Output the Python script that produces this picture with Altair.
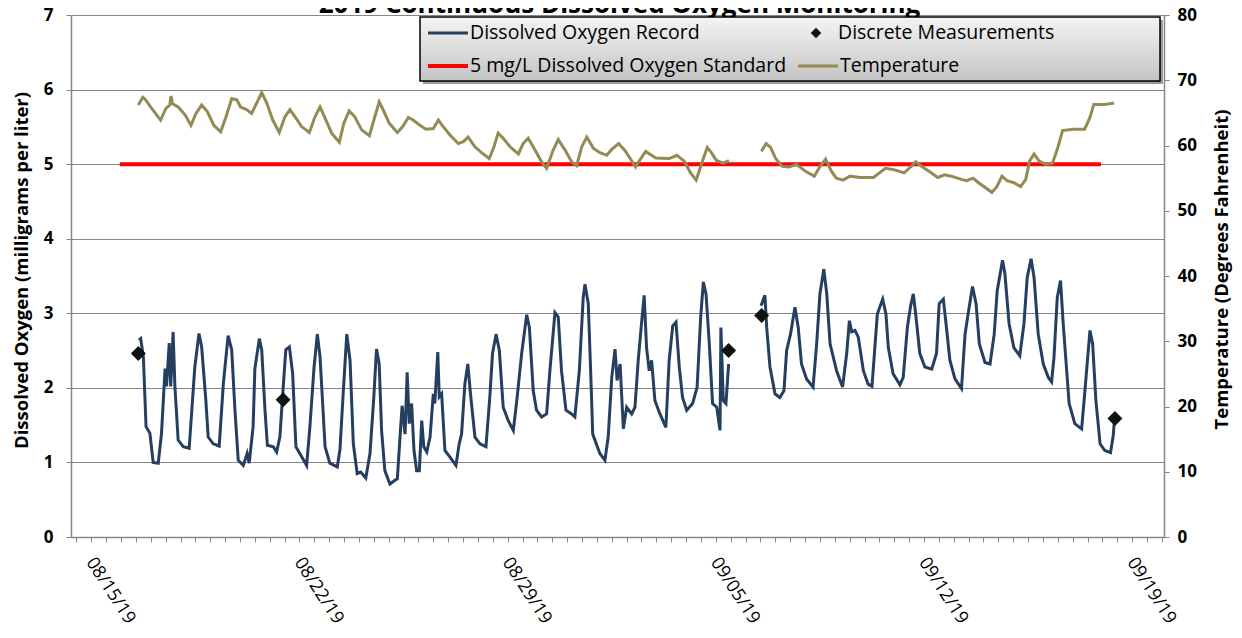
import altair as alt
import pandas as pd

FONT = "Open Sans"
TITLE = "2019 Continuous Dissolved Oxygen Monitoring"
Y_LEFT_TITLE = "Dissolved Oxygen (milligrams per liter)"
Y_RIGHT_TITLE = "Temperature (Degrees Fahrenheit)"
LEGEND_LABELS = ["Dissolved Oxygen Record", "Discrete Measurements",
                 "5 mg/L Dissolved Oxygen Standard", "Temperature"]
DATE_LABELS = ["08/15/19", "08/22/19", "08/29/19", "09/05/19", "09/12/19", "09/19/19"]

# days since 2019-08-15 00:00, dissolved oxygen (mg/L)
do_seg1 = [(2.10,2.64),(2.16,2.66),(2.25,2.42),(2.34,1.48),(2.47,1.39),(2.58,1.00),(2.75,0.99),(2.86,1.39),
           (2.98,2.26),(3.03,2.02),(3.12,2.60),(3.17,2.02),(3.25,2.75),(3.31,2.02),(3.42,1.30),(3.59,1.21),
           (3.79,1.19),(3.98,2.28),(4.12,2.73),(4.21,2.55),(4.35,1.84),(4.43,1.34),(4.60,1.25),(4.80,1.22),
           (4.94,2.06),(5.10,2.70),(5.22,2.51),(5.33,1.70),(5.44,1.03),(5.61,0.96),(5.74,1.12),(5.81,0.99),
           (5.94,1.48),(6.00,2.26),(6.15,2.66),(6.23,2.51),(6.34,1.70),(6.42,1.23),(6.62,1.21),(6.73,1.14),
           (6.84,1.34),(6.98,2.17),(7.04,2.51),(7.16,2.55),(7.27,2.19),(7.38,1.21),(7.57,1.08),(7.74,0.96),
           (7.85,1.48),(7.99,2.28),(8.10,2.72),(8.19,2.42),(8.36,1.21),(8.52,0.99),(8.77,0.94),(8.86,1.17),
           (8.97,1.93),(9.09,2.72),(9.20,2.37),(9.31,1.25),(9.44,0.85),(9.56,0.87),(9.73,0.79),(9.87,1.12),
           (10.00,1.88),(10.09,2.52),(10.18,2.32),(10.26,1.43),(10.37,0.89),(10.54,0.71),(10.71,0.76),(10.79,0.78),
           (10.88,1.34),(10.95,1.76),(11.05,1.38),(11.12,2.21),(11.19,1.52),(11.27,1.79),(11.35,1.16),(11.44,0.89),
           (11.53,0.89),(11.61,1.56),(11.68,1.21),(11.78,1.14),(11.89,1.34),(12.00,1.92),(12.05,1.79),(12.15,2.48),
           (12.20,1.88),(12.28,1.92),(12.39,1.16),(12.56,1.07),(12.76,0.96),(12.87,1.25),(12.95,1.38),(13.06,2.05),
           (13.16,2.32),(13.25,1.92),(13.40,1.34),(13.57,1.25),(13.77,1.21),(13.90,1.88),(13.99,2.46),(14.11,2.72),
           (14.22,2.50),(14.35,1.74),(14.52,1.56),(14.69,1.43),(14.82,1.88),(14.97,2.46),(15.14,2.98),(15.23,2.81),
           (15.36,1.96),(15.47,1.70),(15.64,1.61),(15.81,1.65),(15.92,2.23),(16.09,3.01),(16.20,2.95),(16.31,2.23),
           (16.46,1.70),(16.65,1.65),(16.76,1.61),(16.91,2.23),(17.04,3.21),(17.10,3.39),(17.21,3.13),(17.29,2.23),
           (17.36,1.38),(17.60,1.12),(17.77,1.03),(17.88,1.34),(18.00,2.14),(18.11,2.52),(18.18,2.10),(18.28,2.32),
           (18.39,1.45),(18.50,1.74),(18.67,1.65),(18.78,1.74),(18.89,2.37),(19.00,2.86),(19.09,3.24),(19.17,2.54),
           (19.26,2.23),(19.34,2.37),(19.45,1.83),(19.62,1.65),(19.82,1.47),(19.93,2.37),(20.05,2.83),(20.16,2.88),
           (20.27,2.28),(20.38,1.87),(20.52,1.70),(20.72,1.79),(20.87,2.01),(20.99,2.95),(21.08,3.42),(21.17,3.26),
           (21.28,2.59),(21.39,1.79),(21.53,1.74),(21.64,1.43),(21.67,2.81),(21.75,1.83),(21.84,1.79),(21.93,2.32)]
do_seg2 = [(23.02,3.10),(23.15,3.24),(23.21,2.81),(23.32,2.28),(23.49,1.92),(23.65,1.87),(23.79,1.96),(23.88,2.50),
           (24.01,2.72),(24.16,3.08),(24.27,2.81),(24.38,2.32),(24.55,2.12),(24.77,2.01),(24.89,2.59),(25.00,3.26),
           (25.13,3.59),(25.23,3.26),(25.34,2.59),(25.56,2.23),(25.76,2.01),(25.90,2.46),(25.99,2.90),(26.07,2.75),
           (26.18,2.77),(26.29,2.68),(26.46,2.23),(26.62,2.05),(26.75,2.02),(26.93,2.99),(27.11,3.19),(27.22,2.99),
           (27.30,2.54),(27.46,2.19),(27.69,2.04),(27.80,2.14),(27.94,2.81),(28.05,3.10),(28.14,3.26),(28.23,2.95),
           (28.36,2.46),(28.53,2.28),(28.76,2.25),(28.92,2.46),(29.01,3.13),(29.15,3.19),(29.24,2.86),(29.37,2.37),
           (29.54,2.12),(29.76,1.99),(29.88,2.72),(29.99,3.01),(30.13,3.36),(30.25,3.13),(30.36,2.59),(30.55,2.34),
           (30.72,2.32),(30.86,2.72),(30.96,3.30),(31.14,3.71),(31.22,3.53),(31.36,2.86),(31.52,2.54),(31.72,2.43),
           (31.86,2.86),(31.97,3.48),(32.10,3.73),(32.20,3.48),(32.34,2.72),(32.51,2.32),(32.68,2.14),(32.79,2.08),
           (32.87,2.41),(32.98,3.21),(33.09,3.44),(33.18,2.86),(33.38,1.79),(33.57,1.52),(33.80,1.45),(33.91,1.96),
           (34.08,2.77),(34.17,2.59),(34.28,1.83),(34.42,1.25),(34.58,1.16),(34.77,1.13),(34.86,1.35),(34.92,1.65)]

# days since 2019-08-15 00:00, temperature (deg F)
temp_seg1 = [(2.08,66.2),(2.23,67.4),(2.31,67.1),(2.53,65.7),(2.83,63.9),(3.01,65.7),(3.14,66.2),(3.18,67.6),
             (3.23,66.4),(3.42,65.9),(3.65,64.7),(3.85,63.1),(4.02,64.9),(4.21,66.2),(4.40,65.2),(4.62,63.1),
             (4.85,62.1),(5.03,64.4),(5.22,67.2),(5.39,67.0),(5.52,65.9),(5.72,65.5),(5.89,64.9),(6.06,66.5),
             (6.23,68.1),(6.40,66.5),(6.60,63.9),(6.82,62.0),(7.01,64.4),(7.18,65.5),(7.35,64.4),(7.57,62.9),
             (7.83,62.0),(8.02,64.4),(8.19,65.9),(8.36,64.2),(8.58,61.9),(8.84,60.5),(8.99,63.4),(9.17,65.3),
             (9.36,64.4),(9.59,62.4),(9.85,61.5),(10.00,63.9),(10.18,66.7),(10.32,65.4),(10.52,63.4),(10.79,62.0),
             (10.97,62.9),(11.16,64.3),(11.32,63.9),(11.55,63.1),(11.75,62.5),(12.00,62.6),(12.17,63.9),(12.31,63.0),
             (12.56,61.6),(12.84,60.3),(13.01,60.6),(13.17,61.3),(13.40,59.8),(13.62,58.9),(13.88,58.0),(14.04,59.8),
             (14.18,61.9),(14.35,61.1),(14.58,59.8),(14.86,58.7),(15.02,60.3),(15.19,61.1),(15.42,59.3),(15.64,57.5),
             (15.81,56.5),(16.03,59.3),(16.20,60.9),(16.43,59.3),(16.65,57.5),(16.82,56.9),(16.99,59.8),(17.16,61.3),
             (17.38,59.6),(17.60,58.9),(17.83,58.5),(18.00,59.4),(18.23,60.3),(18.45,59.2),(18.80,56.7),(18.96,57.9),
             (19.14,59.1),(19.48,58.1),(19.93,58.0),(20.19,58.5),(20.44,57.6),(20.65,55.8),(20.84,54.7),(21.01,57.1),
             (21.21,59.7),(21.35,58.9),(21.52,57.7),(21.75,57.3),(21.94,57.7)]
temp_seg2 = [(23.03,59.1),(23.19,60.3),(23.34,59.7),(23.51,58.0),(23.74,56.8),(23.96,56.7),(24.21,57.1),(24.53,56.0),
             (24.81,55.3),(24.99,56.7),(25.19,57.9),(25.38,56.1),(25.55,55.0),(25.78,54.7),(26.01,55.3),(26.35,55.1),
             (26.80,55.1),(27.20,56.5),(27.48,56.3),(27.83,55.8),(28.05,56.7),(28.22,57.5),(28.45,56.7),(28.68,56.0),
             (28.96,55.1),(29.19,55.5),(29.42,55.3),(29.76,54.8),(29.93,54.6),(30.15,55.0),(30.33,54.3),(30.55,53.6),
             (30.78,52.8),(30.95,53.7),(31.12,55.3),(31.29,54.6),(31.52,54.3),(31.75,53.7),(31.92,54.8),(32.05,57.6),
             (32.20,58.7),(32.37,57.6),(32.60,57.1),(32.82,57.3),(33.00,59.7),(33.16,62.3),(33.51,62.5),(33.90,62.5),
             (34.08,64.3),(34.21,66.3),(34.53,66.3),(34.75,66.4),(34.89,66.5)]

discrete_days = [2.08, 6.95, 21.93, 23.04, 34.92]
discrete_vals = [2.46, 1.84, 2.50, 2.97, 1.59]

standard_days = [1.46, 34.45]
standard_vals = [5.0, 5.0]

BASE = pd.Timestamp("2019-08-15")


def ts(d):
    return (BASE + pd.to_timedelta(d, unit="D")).strftime("%Y-%m-%dT%H:%M:%S")


do_df = pd.DataFrame([{"t": ts(d), "v": v, "seg": i}
                      for i, seg in enumerate([do_seg1, do_seg2]) for d, v in seg])
temp_df = pd.DataFrame([{"t": ts(d), "v": v, "seg": i}
                        for i, seg in enumerate([temp_seg1, temp_seg2]) for d, v in seg])
disc_df = pd.DataFrame({"t": [ts(d) for d in discrete_days], "v": discrete_vals})
std_df = pd.DataFrame({"t": [ts(d) for d in standard_days], "v": standard_vals})
one = pd.DataFrame({"a": [0]})

W, H = 1093, 522
GRAY = "#868686"


def dt(t):
    t = pd.Timestamp(t)
    return alt.DateTime(year=t.year, month=t.month, date=t.day, hours=t.hour, minutes=t.minute)


x_domain = [dt("2019-08-14 19:36"), dt("2019-09-20 13:40")]
tick_vals = [dt(t) for t in pd.date_range("2019-08-15", "2019-09-20 12:00", freq="12h")]
lab_list = "[" + ",".join("'%s'" % s for s in DATE_LABELS) + "]"
label_expr = ("indexof(%s, timeFormat(datum.value, '%%m/%%d/%%y')) >= 0 && hours(datum.value) == 0"
              " ? timeFormat(datum.value, '%%m/%%d/%%y') : ''") % lab_list

x_axis = alt.Axis(values=tick_vals, labelExpr=label_expr, labelAngle=57, labelAlign="left",
                  labelBaseline="middle", labelPadding=17, labelOffset=13, labelFlush=False,
                  labelOverlap=False, tickSize=5, tickColor=GRAY, domainColor=GRAY, domainWidth=1.5,
                  grid=False, labelFont=FONT, labelFontSize=18, labelColor="black", title=None)
x_enc = alt.X("t:T", scale=alt.Scale(domain=x_domain), axis=x_axis)

y_left_axis = alt.Axis(values=list(range(0, 8)), title=Y_LEFT_TITLE, titleFont=FONT, titleFontSize=18.5,
                       titleFontWeight="bold", titleColor="black", titleX=-50, titleY=255,
                       titleAngle=270, titleAlign="center", titleBaseline="middle",
                       labelFont=FONT, labelFontSize=17, labelFontWeight="bold", labelColor="black",
                       labelPadding=13, tickSize=5, tickColor=GRAY, domainColor=GRAY, domainWidth=1.5,
                       gridColor=GRAY, gridWidth=1)
y_left = alt.Y("v:Q", scale=alt.Scale(domain=[0, 7], nice=False), axis=y_left_axis)

y_right_axis = alt.Axis(orient="right", values=list(range(0, 81, 10)), title=Y_RIGHT_TITLE,
                        titleFont=FONT, titleFontSize=18.5, titleFontWeight="bold", titleColor="black",
                        titleX=57, titleY=254, titleAngle=270, titleAlign="center",
                        titleBaseline="middle", labelFont=FONT, labelFontSize=17, labelFontWeight="bold",
                        labelColor="black", labelPadding=8, tickSize=5, tickColor=GRAY,
                        domainColor=GRAY, domainWidth=1.5, grid=False)
y_right = alt.Y("v:Q", scale=alt.Scale(domain=[0, 80], nice=False), axis=y_right_axis)

std_line = alt.Chart(std_df).mark_line(color="#FF0000", strokeWidth=4).encode(x=x_enc, y=y_left)
do_line = alt.Chart(do_df).mark_line(color="#243F60", strokeWidth=3).encode(
    x=x_enc, y=y_left, detail="seg:N")
disc_pts = alt.Chart(disc_df).mark_point(shape="diamond", filled=True, size=225, color="#111111",
                                         opacity=1).encode(x=x_enc, y=y_left)

# chart title, partly above the top edge as in the reference (drawn under the legend box)
title_text = alt.Chart(one).mark_text(align="center", baseline="alphabetic", font=FONT, fontSize=26,
                                      fontWeight="bold", color="black").encode(
    x=alt.value(W / 2 + 2), y=alt.value(-2), text=alt.value(TITLE))

# legend box (decoration)
LX0, LX1, LY0, LY1 = 349, 1089, 2, 66
R1, R2 = 18, 51
gradient = {"gradient": "linear", "x1": 0, "y1": 0, "x2": 0, "y2": 1,
            "stops": [{"offset": 0, "color": "#f4f4f4"}, {"offset": 1, "color": "#c4c4c4"}]}
shadow = alt.Chart(one).mark_rect(fill="#9a9a9a").encode(
    x=alt.value(LX0 + 3), x2=alt.value(LX1 + 3), y=alt.value(LY0 + 3), y2=alt.value(LY1 + 3))
box = alt.Chart(one).mark_rect(fill=gradient, stroke="black", strokeWidth=1.5).encode(
    x=alt.value(LX0), x2=alt.value(LX1), y=alt.value(LY0), y2=alt.value(LY1))
leg_do = alt.Chart(one).mark_rule(color="#243F60", strokeWidth=3).encode(
    x=alt.value(357), x2=alt.value(397), y=alt.value(R1))
leg_std = alt.Chart(one).mark_rule(color="#FF0000", strokeWidth=4).encode(
    x=alt.value(357), x2=alt.value(397), y=alt.value(R2))
leg_temp = alt.Chart(one).mark_rule(color="#948A54", strokeWidth=3).encode(
    x=alt.value(727), x2=alt.value(767), y=alt.value(R2))
leg_pt = alt.Chart(one).mark_point(shape="diamond", filled=True, size=110, color="#111111",
                                   opacity=1).encode(x=alt.value(745), y=alt.value(R1))


def leg_text(label, xv, yv):
    return alt.Chart(one).mark_text(align="left", baseline="middle", font=FONT, fontSize=19.5,
                                    color="black").encode(
        x=alt.value(xv), y=alt.value(yv), text=alt.value(label))


legend_layers = [shadow, box, leg_do, leg_std, leg_temp, leg_pt,
                 leg_text(LEGEND_LABELS[0], 399, R1), leg_text(LEGEND_LABELS[1], 767, R1),
                 leg_text(LEGEND_LABELS[2], 399, R2), leg_text(LEGEND_LABELS[3], 769, R2)]

left = alt.layer(std_line, do_line, disc_pts)
temp_line = alt.Chart(temp_df).mark_line(color="#948A54", strokeWidth=3).encode(
    x=x_enc, y=y_right, detail="seg:N")

chart = alt.layer(left, temp_line, title_text, *legend_layers).resolve_scale(y="independent").properties(
    width=W, height=H,
    autosize=alt.AutoSizeParams(type="none"),
    padding={"left": 63, "top": 7, "right": 70, "bottom": 92},
).configure_view(strokeWidth=0)

chart.save("out.html", embed_options={"renderer": "svg", "actions": False})
